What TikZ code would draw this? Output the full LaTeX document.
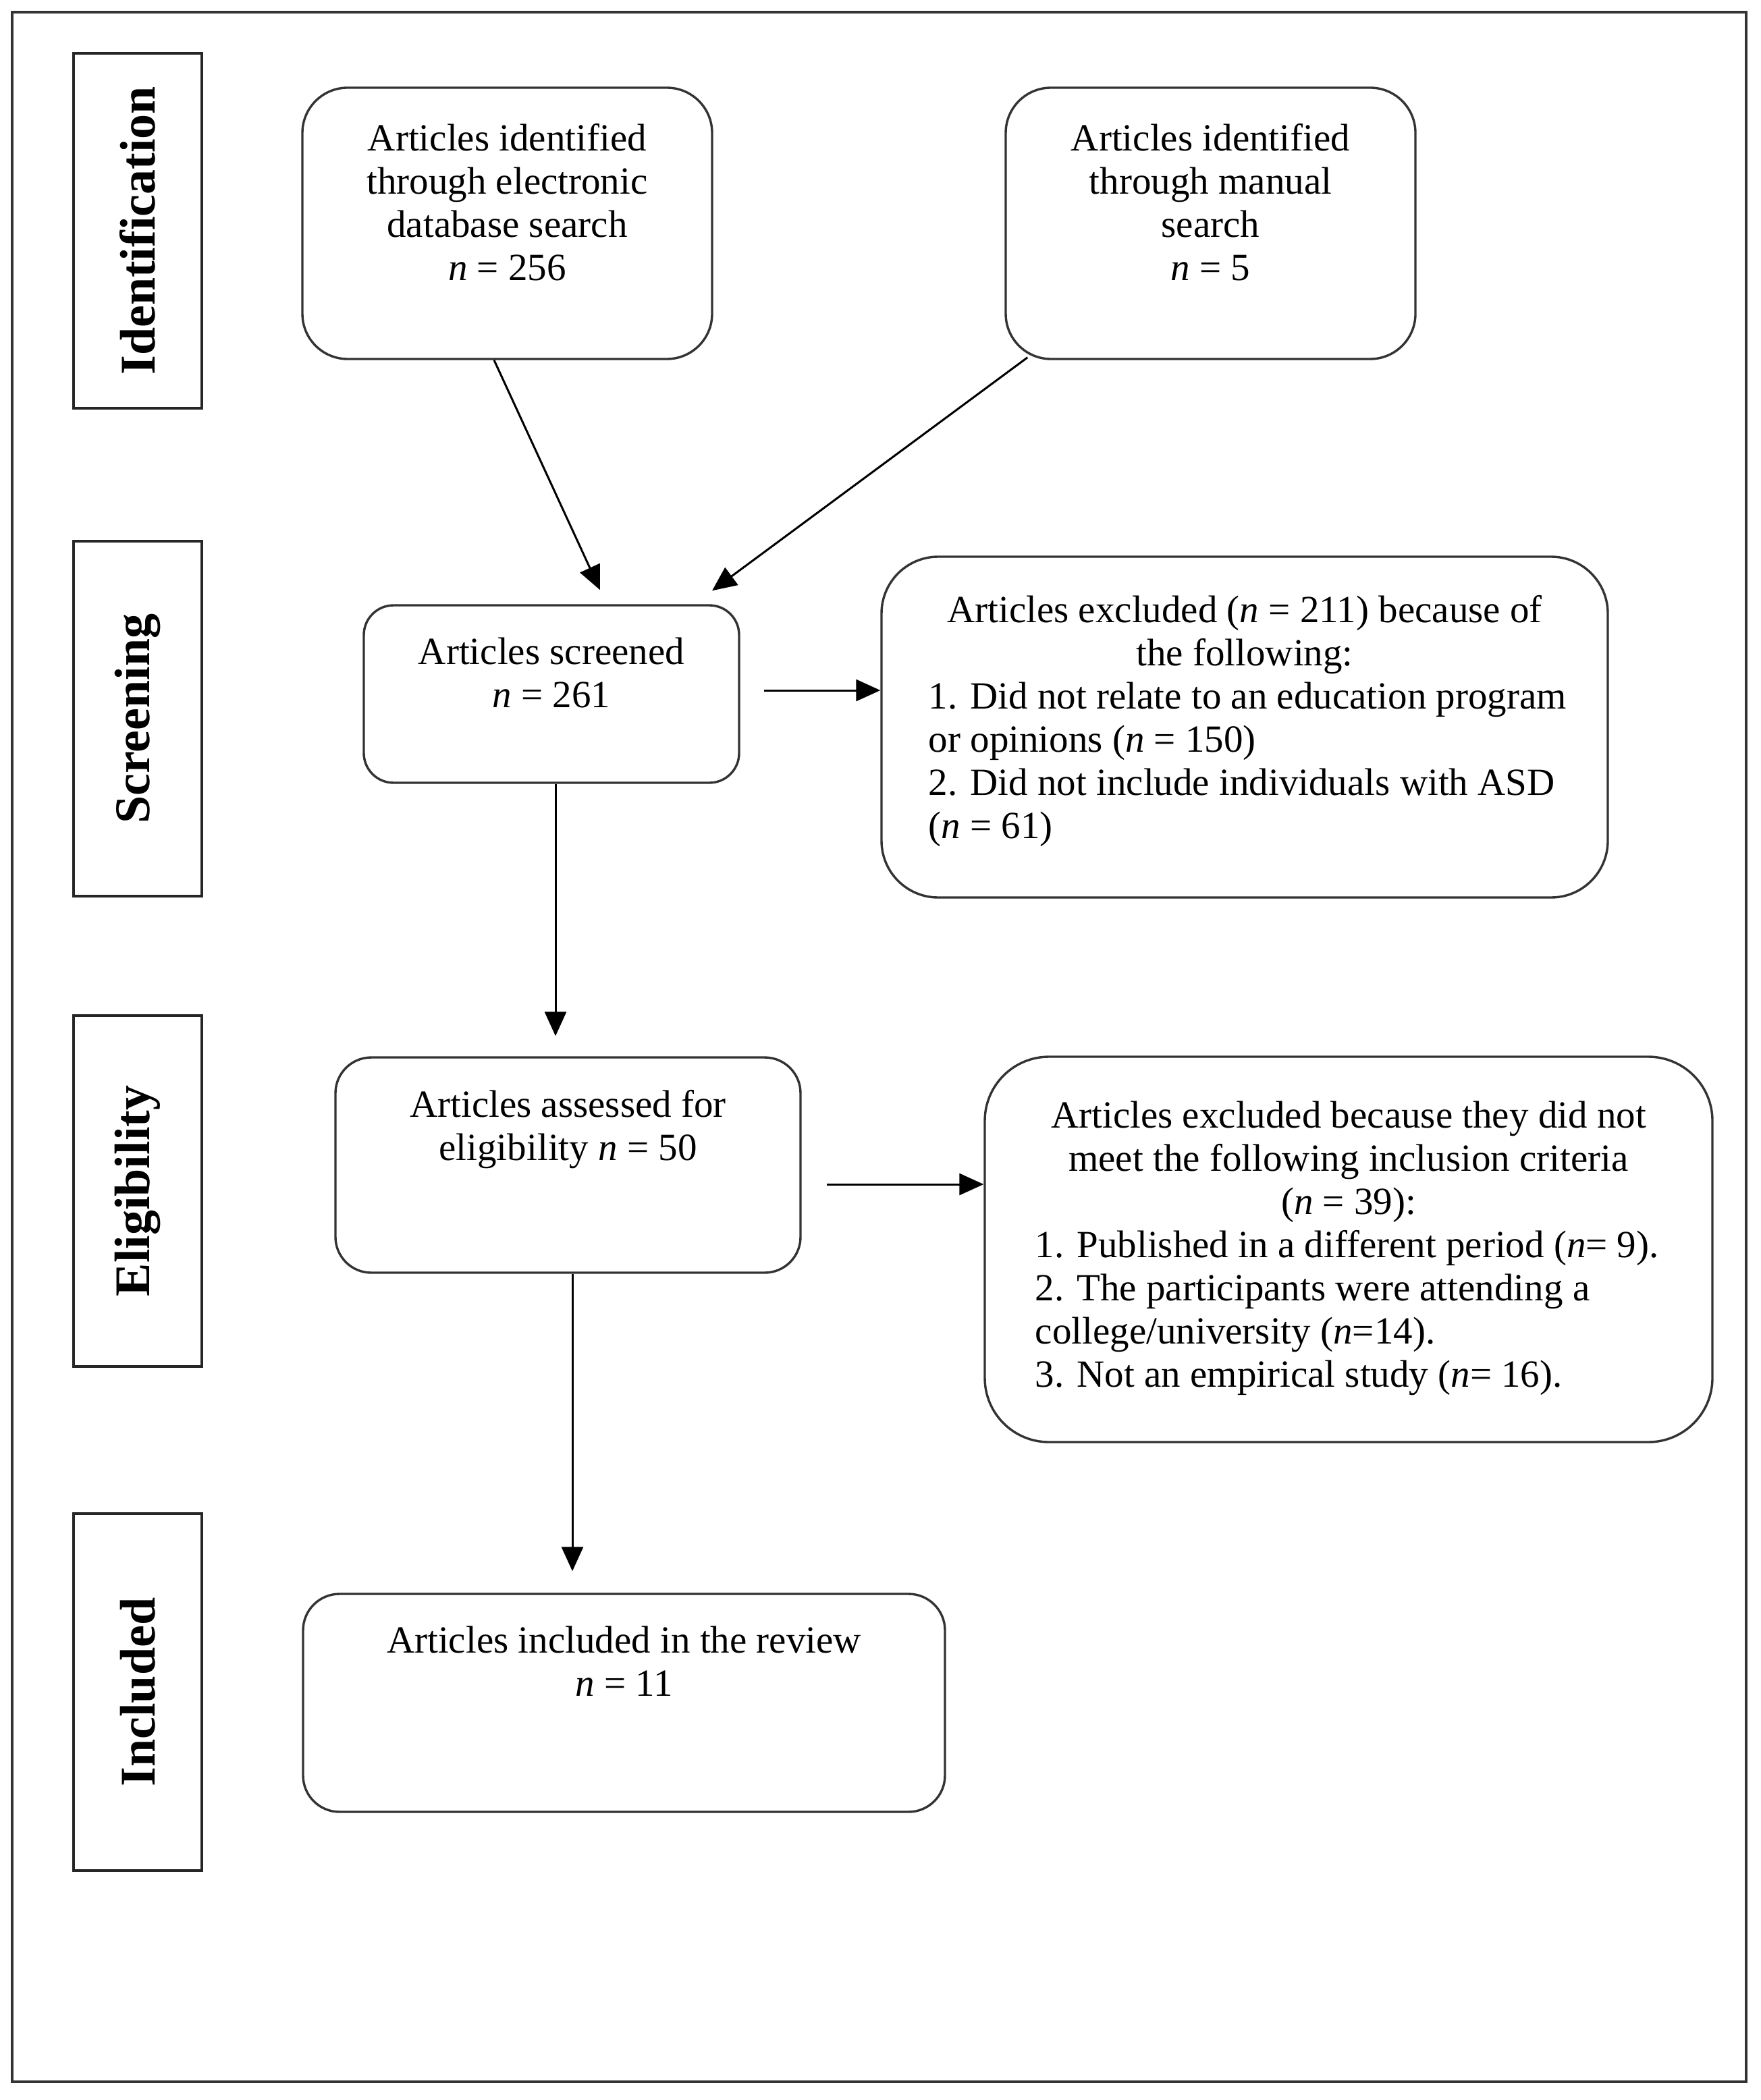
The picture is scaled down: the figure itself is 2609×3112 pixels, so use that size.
\documentclass[tikz,border=0pt]{standalone}
\usepackage{fontspec}
\setmainfont{Liberation Serif}
\usetikzlibrary{arrows.meta,calc}
\begin{document}
\begin{tikzpicture}[x=0.25pt,y=-0.25pt,
  box/.style={draw=black!80, line width=0.85pt, inner sep=0pt},
  side/.style={draw=black!85, line width=1pt, inner sep=0pt, minimum width=47.5pt},
  sidetxt/.style={rotate=90, inner sep=0pt, font=\fontsize{18.5}{20}\selectfont\bfseries},
  txt/.style={inner sep=0pt, anchor=north, align=center, font=\fontsize{14.25}{16}\selectfont},
  ltxt/.style={inner sep=0pt, anchor=north west, align=left, font=\fontsize{14.25}{16}\selectfont},
  arr/.style={draw=black, line width=0.75pt, -{Triangle[length=9pt,width=8pt]}}]
\useasboundingbox (0,0) rectangle (2609,3112);
\node[draw=black!80, line width=1pt, inner sep=0pt, minimum width=642.25pt, minimum height=766.75pt] (frame) at (1302.5,1551.5) {};

% side labels
\node[side, minimum height=131.5pt] (S1) at (204,342) {};
\node[sidetxt] (S1t) at (S1.center) {Identification};
\node[side, minimum height=131.5pt] (S2) at (204,1065) {};
\node[sidetxt] (S2t) at (S2.center) {Screening};
\node[side, minimum height=130pt] (S3) at (204,1765) {};
\node[sidetxt] (S3t) at (S3.center) {Eligibility};
\node[side, minimum height=132.25pt] (S4) at (204,2507.5) {};
\node[sidetxt] (S4t) at (S4.center) {Included};

% boxes
\node[box, rounded corners=16.75pt, minimum width=151.75pt, minimum height=100.5pt] (A) at (751.5,331) {};
\node[txt] (At) at (751.5,178.2) {\strut Articles identified\\through electronic\\database search\\\textit{n} = 256};
\node[box, rounded corners=16.75pt, minimum width=151.75pt, minimum height=100.5pt] (B) at (1793.5,331) {};
\node[txt] (Bt) at (1793.5,178.2) {\strut Articles identified\\through manual\\search\\\textit{n} = 5};
\node[box, rounded corners=11pt, minimum width=139pt, minimum height=65.75pt] (C) at (817,1028.5) {};
\node[txt] (Ct) at (817,939.2) {\strut Articles screened\\\textit{n} = 261};
\node[box, rounded corners=21pt, minimum width=269pt, minimum height=126.25pt] (D) at (1844,1077.5) {};
\node[txt] (Dh) at (1844,877.2) {\strut Articles excluded (\textit{n} = 211) because of\\the following:};
\node[ltxt] (Dl) at (1375,1005.2) {\strut 1. Did not relate to an education program\\or opinions (\textit{n} = 150)\\2. Did not include individuals with ASD\\(\textit{n} = 61)};
\node[box, rounded corners=13.25pt, minimum width=172.25pt, minimum height=79.75pt] (E) at (841.5,1726.5) {};
\node[txt] (Et) at (841.5,1610.2) {\strut Articles assessed for\\eligibility \textit{n} = 50};
\node[box, rounded corners=23.75pt, minimum width=269.5pt, minimum height=142.75pt] (F) at (1998,1851.5) {};
\node[txt] (Fh) at (1998,1626.2) {\strut Articles excluded because they did not\\meet the following inclusion criteria\\(\textit{n} = 39):};
\node[ltxt] (Fl) at (1533,1818.2) {\strut 1. Published in a different period (\textit{n}= 9).\\2. The participants were attending a\\college/university (\textit{n}=14).\\3. Not an empirical study (\textit{n}= 16).};
\node[box, rounded corners=13.5pt, minimum width=237.75pt, minimum height=80.75pt] (G) at (924.5,2523.5) {};
\node[txt] (Gt) at (924.5,2404.2) {\strut Articles included in the review\\\textit{n} = 11};

% connectors
\draw[arr] ($(A.south)+(-19.5,0)$) -- ($(C.north)+(72,-21)$);
\draw[arr] ($(B.south west)+(34,-4)$) -- ($(C.north)+(238,-20)$);
\coordinate (cd) at ($(C.east)+(35,-5.5)$);
\draw[arr] (cd) -- (cd -| D.west);
\coordinate (ce) at ($(C.south)+(6,0)$);
\draw[arr] (ce) -- ($(E.north)+(-18.5,-30)$);
\coordinate (ef) at ($(E.east)+(37,28.5)$);
\draw[arr] (ef) -- (ef -| F.west);
\coordinate (eg) at ($(E.south)+(6.5,0)$);
\draw[arr] (eg) -- ($(G.north)+(-76.5,-32)$);
\end{tikzpicture}
\end{document}
